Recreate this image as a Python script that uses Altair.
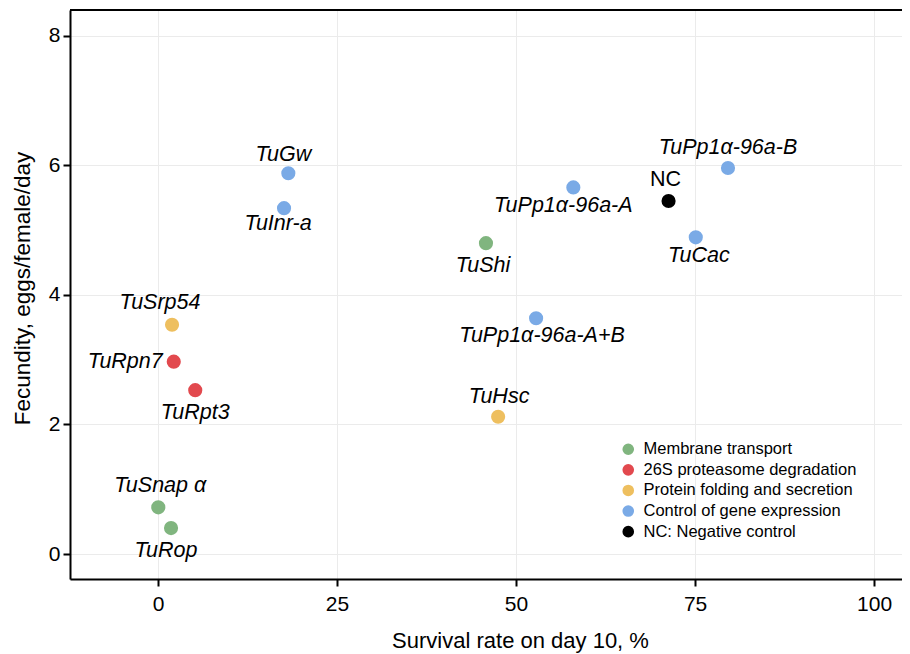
import altair as alt
import pandas as pd

genes = ["TuGw", "TuInr-a", "TuPp1α-96a-B", "TuPp1α-96a-A", "NC", "TuCac",
         "TuShi", "TuPp1α-96a-A+B", "TuHsc", "TuSrp54", "TuRpn7", "TuRpt3",
         "TuSnap α", "TuRop"]
survival = [18.2, 17.6, 79.6, 58.0, 71.3, 75.1, 45.8, 52.8, 47.5, 1.96, 2.2, 5.2, 0.04, 1.82]
fecundity = [5.88, 5.34, 5.96, 5.66, 5.45, 4.89, 4.80, 3.64, 2.12, 3.54, 2.97, 2.53, 0.72, 0.40]
groups = ["Control of gene expression", "Control of gene expression",
          "Control of gene expression", "Control of gene expression",
          "NC: Negative control", "Control of gene expression",
          "Membrane transport", "Control of gene expression",
          "Protein folding and secretion", "Protein folding and secretion",
          "26S proteasome degradation", "26S proteasome degradation",
          "Membrane transport", "Membrane transport"]

group_order = ["Membrane transport", "26S proteasome degradation",
               "Protein folding and secretion", "Control of gene expression",
               "NC: Negative control"]
group_colors = ["#80b57f", "#e2494e", "#eebf5f", "#7aaae6", "#000000"]

x_ticks = [0, 25, 50, 75, 100]
y_ticks = [0, 2, 4, 6, 8]

df = pd.DataFrame({"gene": genes, "survival": survival,
                   "fecundity": fecundity, "group": groups})

# label placement (pixel offsets from the point): dx, dy, align
label_offsets = {
    "TuGw": (-5, -18, "center"),
    "TuInr-a": (-6, 16, "center"),
    "TuPp1α-96a-B": (0, -20, "center"),
    "TuPp1α-96a-A": (-10, 19, "center"),
    "NC": (-3, -21, "center"),
    "TuCac": (3, 19, "center"),
    "TuShi": (-3, 23, "center"),
    "TuPp1α-96a-A+B": (6, 18, "center"),
    "TuHsc": (1, -20, "center"),
    "TuSrp54": (-12, -22, "center"),
    "TuRpn7": (-11, 0, "right"),
    "TuRpt3": (0, 23, "center"),
    "TuSnap α": (2, -21, "center"),
    "TuRop": (-5, 23, "center"),
}

FONT = "Liberation Sans"
W, H = 832, 569
x_dom = [-12.29, 103.9]
y_dom = [-0.386, 8.40]

xscale = alt.Scale(domain=x_dom, nice=False, zero=False)
yscale = alt.Scale(domain=y_dom, nice=False, zero=False)

x_enc = alt.X("survival:Q", scale=xscale,
              axis=alt.Axis(values=x_ticks, format="d", title="Survival rate on day 10, %",
                            grid=True, gridColor="#ebebeb", gridWidth=1,
                            domainColor="black", domainWidth=2,
                            tickColor="black", tickWidth=2, tickSize=7,
                            labelFont=FONT, labelFontSize=21, labelColor="black",
                            labelPadding=7,
                            titleFont=FONT, titleFontSize=22, titleFontWeight="normal",
                            titleColor="black", titleX=450, titleY=68,
                            titleBaseline="alphabetic", titleAlign="center"))
y_enc = alt.Y("fecundity:Q", scale=yscale,
              axis=alt.Axis(values=y_ticks, format="d", title="Fecundity, eggs/female/day",
                            grid=True, gridColor="#ebebeb", gridWidth=1,
                            domainColor="black", domainWidth=2,
                            tickColor="black", tickWidth=2, tickSize=7,
                            labelFont=FONT, labelFontSize=21, labelColor="black",
                            labelPadding=3,
                            titleFont=FONT, titleFontSize=22.5, titleFontWeight="normal",
                            titleColor="black", titleAngle=270, titleX=-48, titleY=278,
                            titleBaseline="middle", titleAlign="center"))

base = alt.Chart(df)

points = base.mark_circle(size=200, opacity=1).encode(
    x=x_enc,
    y=y_enc,
    color=alt.Color("group:N",
                    scale=alt.Scale(domain=group_order, range=group_colors),
                    legend=alt.Legend(title=None, orient="none",
                                      legendX=550, legendY=431, padding=0,
                                      symbolType="circle", symbolSize=135,
                                      symbolStrokeWidth=0, symbolOpacity=1,
                                      labelFont=FONT, labelFontSize=16.5,
                                      labelColor="black", rowPadding=3.6,
                                      labelOffset=7, labelLimit=0)),
)

# top border of the panel
top_border = alt.Chart(pd.DataFrame({"k": [0]})).mark_rule(
    color="black", strokeWidth=2
).encode(x=alt.value(0), x2=alt.value(W), y=alt.value(0))

layers = [points]
for g, (dx, dy, al) in label_offsets.items():
    italic = "normal" if g == "NC" else "italic"
    layers.append(
        base.transform_filter(alt.datum.gene == g).mark_text(
            dx=dx, dy=dy, align=al, baseline="middle", font=FONT,
            fontSize=21.5, fontStyle=italic, color="black"
        ).encode(x=x_enc, y=y_enc, text="gene:N")
    )
layers.append(top_border)

chart = alt.layer(*layers).properties(
    width=W, height=H,
    padding={"left": 62, "top": 2, "right": 0, "bottom": 74},
    autosize=alt.AutoSizeParams(type="none"),
).configure_view(stroke=None).configure(background="white")

chart.save("out.html", embed_options={"renderer": "svg", "actions": False})
